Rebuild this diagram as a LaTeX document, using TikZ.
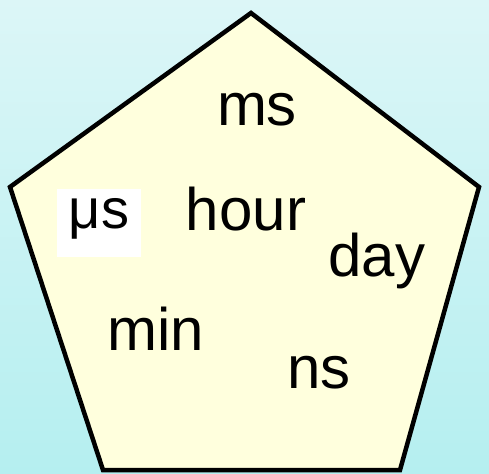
\documentclass[tikz,border=0pt]{standalone}
\usepackage{fontspec}
\setmainfont{Liberation Sans}
\usetikzlibrary{positioning}
\definecolor{skytop}{RGB}{220,246,247}
\definecolor{skybot}{RGB}{181,239,240}
\definecolor{paleyellow}{RGB}{255,255,221}

\begin{document}
\begin{tikzpicture}[x=1pt,y=1pt,
  unit/.style={font=\fontsize{60}{72}\selectfont,anchor=base,inner sep=0pt}]
  \shade[top color=skytop,bottom color=skybot] (0,0) rectangle (489,473);
  \useasboundingbox (0,0) rectangle (489,473);
  % the pentagon
  \draw[line width=4.5pt,fill=paleyellow]
    (251,460) -- (479,286) -- (400,3) -- (103,3) -- (10,286) -- cycle;
  % time units
  \node[unit] (ms) at (257,347) {ms};
  \node[unit,anchor=center,font=\fontsize{56}{64}\selectfont,fill=white,
        minimum width=84pt,minimum height=68pt,
        text height=32pt,text depth=20pt] (us) at (99,250) {μs};
  \node[unit] (hour) at (246,242) {hour};
  \node[unit] (day) at (377,196) {day};
  \node[unit] (min) at (156,122) {min};
  \node[unit] (ns) at (319,84) {ns};
\end{tikzpicture}
\end{document}
